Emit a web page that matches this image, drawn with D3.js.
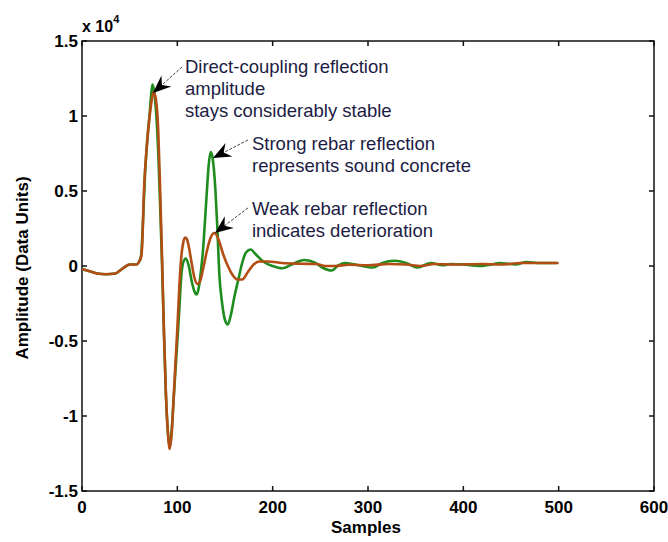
<!DOCTYPE html>
<html>
<head>
<meta charset="utf-8">
<script src="https://cdn.jsdelivr.net/npm/d3@7"></script>
<style>
  body { margin: 0; background: #fff; }
  text { font-family: "Liberation Sans", Arial, sans-serif; }
</style>
</head>
<body>
<div id="chart"></div>
<script>
// GPR traces, amplitude in units of 1e4

// sound concrete (green)
var soundSamples = [0,8,16,25,35,42,50,57,60,62,64,66,69,71,73,74,76,78,80,82,84,86,88,90,92,94,96,98,100,102,104,106,109,112,115,118,120,122,125,127,129,131,133,135,137,140,142,144,147,150,153,156,160,164,168,172,177,182,190,200,210,220,233,245,252,262,268,275,290,305,315,328,340,352,366,378,387,400,417,430,438,455,466,480,498];
var soundValues = [-0.02,-0.035,-0.05,-0.055,-0.05,-0.02,0.01,0.01,0.03,0.07,0.3,0.6,0.88,1.02,1.17,1.21,1.15,1.0,0.75,0.4,0.0,-0.45,-0.85,-1.1,-1.2,-1.1,-0.9,-0.7,-0.5,-0.3,-0.08,0.02,0.05,0.0,-0.1,-0.17,-0.19,-0.16,-0.02,0.11,0.3,0.5,0.68,0.76,0.72,0.5,0.25,-0.05,-0.25,-0.36,-0.39,-0.33,-0.2,-0.09,0.02,0.09,0.11,0.08,0.03,0.0,-0.015,0.01,0.04,0.02,-0.01,-0.03,0.0,0.02,0.005,-0.01,0.02,0.035,0.02,-0.01,0.02,0.005,0.013,0.01,0.0,0.01,0.02,0.01,0.027,0.02,0.02];

// deteriorated concrete (brown)
var deterSamples = [0,8,16,25,35,42,50,57,60,62,63,65,68,71,73,75,77,80,82,84,86,88,90,92,94,96,98,100,102,104,106,108,110,112,115,118,121,124,127,131,135,139,143,148,153,158,163,168,174,180,186,195,210,230,246,255,265,280,300,322,340,355,370,390,420,440,460,480,500];
var deterValues = [-0.02,-0.035,-0.05,-0.055,-0.05,-0.02,0.01,0.01,0.03,0.06,0.12,0.5,0.8,1.0,1.1,1.16,1.13,0.9,0.5,0.05,-0.45,-0.85,-1.1,-1.22,-1.12,-0.9,-0.65,-0.42,-0.15,0.05,0.15,0.19,0.18,0.13,0.02,-0.08,-0.12,-0.1,-0.02,0.1,0.19,0.22,0.18,0.08,0.0,-0.06,-0.09,-0.09,-0.04,0.01,0.03,0.03,0.02,0.015,0.013,0.0,0.0,0.008,0.005,0.013,0.01,0.0,0.013,0.01,0.013,0.01,0.02,0.02,0.02];

var xTicks = [0,100,200,300,400,500,600];
var yTicks = [-1.5,-1,-0.5,0,0.5,1,1.5];

// annotations: text lines, text anchor, arrow tip and tail (data units)
var noteLines = [
  ["Direct-coupling reflection", "amplitude", "stays considerably stable"],
  ["Strong rebar reflection", "represents sound concrete"],
  ["Weak rebar reflection", "indicates deterioration"]
];
var noteText = [[108, 1.287], [178.3, 0.773], [178.3, 0.34]];
var arrowTip = [[74.5, 1.153], [137.4, 0.72], [139.5, 0.22]];
var arrowTail = [[104.9, 1.327], [174.1, 0.84], [174.1, 0.387]];

var width = 668, height = 542;
var margin = {left: 82, right: 14, top: 41, bottom: 51};

var svg = d3.select("#chart")
    .append("svg")
        .attr("width", width)
        .attr("height", height);

var x = d3.scaleLinear()
    .domain([0, 600])
    .range([margin.left, width - margin.right]);

var y = d3.scaleLinear()
    .domain([-1.5, 1.5])
    .range([height - margin.bottom, margin.top]);

// Box
svg.append("rect")
    .attr("x", x(0))
    .attr("y", y(1.5))
    .attr("width", x(600) - x(0))
    .attr("height", y(-1.5) - y(1.5))
    .attr("fill", "none")
    .attr("stroke", "#111")
    .attr("stroke-width", 1.5);

// Ticks, inward on all four sides
var tickLen = 5;
xTicks.forEach(function(t) {
    svg.append("line")
        .attr("x1", x(t)).attr("x2", x(t))
        .attr("y1", y(-1.5)).attr("y2", y(-1.5) - tickLen)
        .attr("stroke", "#111").attr("stroke-width", 1.5);
    svg.append("line")
        .attr("x1", x(t)).attr("x2", x(t))
        .attr("y1", y(1.5)).attr("y2", y(1.5) + tickLen)
        .attr("stroke", "#111").attr("stroke-width", 1.5);
    svg.append("text")
        .attr("x", x(t))
        .attr("y", y(-1.5) + 22)
        .attr("text-anchor", "middle")
        .style("font-size", "17px")
        .style("font-weight", "bold")
        .text(t);
});
yTicks.forEach(function(t) {
    svg.append("line")
        .attr("x1", x(0)).attr("x2", x(0) + tickLen)
        .attr("y1", y(t)).attr("y2", y(t))
        .attr("stroke", "#111").attr("stroke-width", 1.5);
    svg.append("line")
        .attr("x1", x(600)).attr("x2", x(600) - tickLen)
        .attr("y1", y(t)).attr("y2", y(t))
        .attr("stroke", "#111").attr("stroke-width", 1.5);
    svg.append("text")
        .attr("x", x(0) - 4)
        .attr("y", y(t) + 6)
        .attr("text-anchor", "end")
        .style("font-size", "17px")
        .style("font-weight", "bold")
        .text(t);
});

// Multiplier
var mult = svg.append("text")
    .attr("x", x(0))
    .attr("y", y(1.5) - 9)
    .style("font-size", "16px")
    .style("font-weight", "bold");
mult.append("tspan").text("x 10");
mult.append("tspan")
    .attr("dy", -9)
    .style("font-size", "11px")
    .text("4");

// Axis titles
svg.append("text")
    .attr("x", (x(0) + x(600)) / 2 - 2)
    .attr("y", height - 9)
    .attr("text-anchor", "middle")
    .style("font-size", "17px")
    .style("font-weight", "bold")
    .text("Samples");

svg.append("text")
    .attr("transform", "translate(28," + ((y(-1.5) + y(1.5)) / 2 + 2) + ")rotate(-90)")
    .attr("text-anchor", "middle")
    .style("font-size", "17px")
    .style("font-weight", "bold")
    .text("Amplitude (Data Units)");

// Lines
var line = d3.line()
    .x(function(d) { return x(d[0]); })
    .y(function(d) { return y(d[1]); })
    .curve(d3.curveMonotoneX);

svg.append("path")
    .datum(d3.zip(soundSamples, soundValues))
    .attr("d", line)
    .attr("fill", "none")
    .attr("stroke", "#1e8c1e")
    .attr("stroke-width", 2.6)
    .attr("stroke-linejoin", "round");

svg.append("path")
    .datum(d3.zip(deterSamples, deterValues))
    .attr("d", line)
    .attr("fill", "none")
    .attr("stroke", "#b24d14")
    .attr("stroke-width", 2.6)
    .attr("stroke-linejoin", "round");

// Annotations
noteLines.forEach(function(lines, i) {
    var t = svg.append("text")
        .attr("x", x(noteText[i][0]))
        .attr("y", y(noteText[i][1]))
        .style("font-size", "18.5px")
        .style("fill", "#1c1c44");
    lines.forEach(function(s, j) {
        t.append("tspan")
            .attr("x", x(noteText[i][0]))
            .attr("dy", j == 0 ? 0 : 22)
            .text(s);
    });

    var x1 = x(arrowTail[i][0]), y1 = y(arrowTail[i][1]);
    var x2 = x(arrowTip[i][0]), y2 = y(arrowTip[i][1]);
    var ang = Math.atan2(y2 - y1, x2 - x1) * 180 / Math.PI;

    svg.append("line")
        .attr("x1", x1).attr("y1", y1)
        .attr("x2", x2).attr("y2", y2)
        .attr("stroke", "#444")
        .attr("stroke-width", 1)
        .attr("stroke-dasharray", "3,1.5");

    svg.append("path")
        .attr("d", "M0,0 L-18,-7.5 L-12,0 L-18,7.5 Z")
        .attr("transform", "translate(" + x2 + "," + y2 + ")rotate(" + ang + ")")
        .attr("fill", "#000");
});
</script>
</body>
</html>
